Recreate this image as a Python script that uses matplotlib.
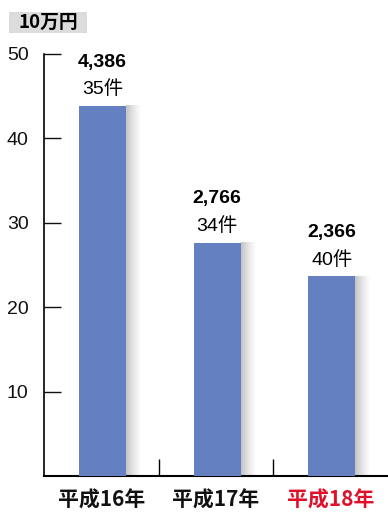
import numpy as np
import matplotlib
matplotlib.use("Agg")
import matplotlib.pyplot as plt
from matplotlib.colors import LinearSegmentedColormap
from matplotlib.patches import Rectangle

years = ["平成16年", "平成17年", "平成18年"]
amounts = [4386, 2766, 2366]   # 万円
counts = [35, 34, 40]          # 件
year_colors = ["#111111", "#111111", "#e0102a"]
yticks = [10, 20, 30, 40, 50]

JP = ["Noto Sans CJK JP", "DejaVu Sans"]
NUM = ["Liberation Sans", "Noto Sans CJK JP"]

W, H = 388, 515
fig = plt.figure(figsize=(W / 100, H / 100), dpi=100)
ax = fig.add_axes([44 / W, 1 - 476 / H, 1 - 44 / W, (476 - 54) / H])

x = np.arange(len(years))
heights = [a / 100 for a in amounts]   # 10万円 units

bar_left = 0.306
bar_w = 0.41
shadow_w = 0.125
ax.bar(x + bar_left, heights, width=bar_w, align="edge", color="#6580c0", zorder=3)

# soft grey falloff on the right side of each bar
shade = LinearSegmentedColormap.from_list("shade", ["#c4c4c4", "#e6e6e6", "#ffffff"])
grad = np.linspace(0, 1, 64).reshape(1, -1)
for xi, h in zip(x, heights):
    x0 = xi + bar_left + bar_w
    ax.imshow(grad, cmap=shade, aspect="auto", extent=[x0, x0 + shadow_w, 0, h],
              interpolation="bilinear", zorder=2)

for xi, h, a, c in zip(x, heights, amounts, counts):
    cx = xi + bar_left + bar_w / 2
    ax.annotate(f"{a:,}", (cx, h), xytext=(0, 31.5), textcoords="offset points",
                ha="center", va="center", fontsize=14, fontweight="bold", family=NUM)
    ax.annotate(f"{c}件", (cx, h), xytext=(0, 12), textcoords="offset points",
                ha="center", va="center", fontsize=14, family=NUM)

ax.set_xlim(0, 3)
ax.set_ylim(0, 50)

ax.set_yticks(yticks)
ax.set_yticklabels([str(t) for t in yticks], family=NUM, fontsize=14)
ax.tick_params(axis="y", direction="in", length=12, width=1, pad=11, colors="#111111")

ax.set_xticks(x + 0.5)
ax.set_xticklabels(years, family=JP, fontsize=15, fontweight="bold")
for lbl, col in zip(ax.get_xticklabels(), year_colors):
    lbl.set_color(col)
ax.set_xticks([1, 2], minor=True)
ax.tick_params(axis="x", which="major", length=0, pad=10)
ax.tick_params(axis="x", which="minor", direction="in", length=12, width=1)

for s in ["top", "right"]:
    ax.spines[s].set_visible(False)
ax.spines["left"].set_linewidth(1.2)
ax.spines["bottom"].set_linewidth(1.5)

# unit tag in the top-left corner
fig.patches.append(Rectangle((9 / W, 1 - 33 / H), 78 / W, 21 / H, transform=fig.transFigure,
                             facecolor="#dcdcdc", edgecolor="none", zorder=0))
fig.text(48 / W, 1 - 22.5 / H, "10万円", family=JP, fontsize=13.5, fontweight="bold",
         ha="center", va="center")

fig.savefig("out.png", dpi=100)
